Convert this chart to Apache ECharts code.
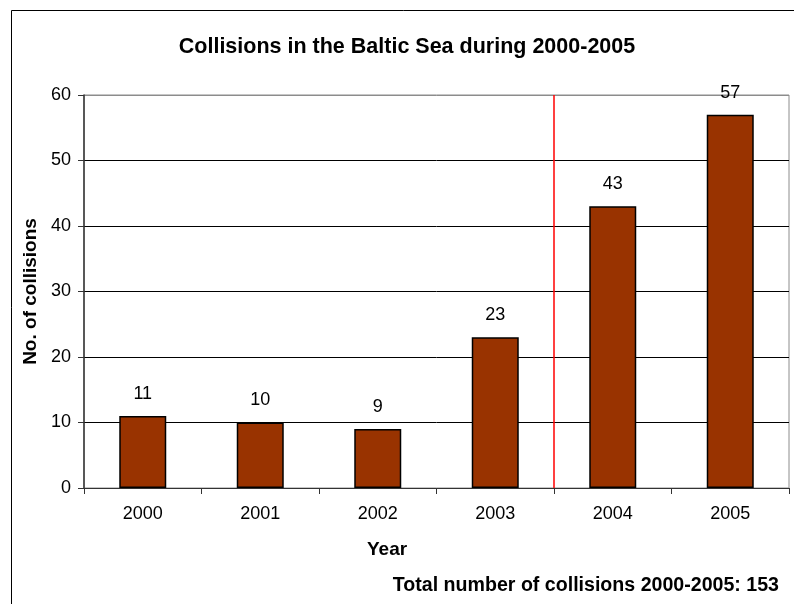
<!DOCTYPE html>
<html>
<head>
<meta charset="utf-8">
<script src="https://cdn.jsdelivr.net/npm/echarts@6/dist/echarts.min.js"></script>
<style>
  html, body { margin: 0; padding: 0; background: #fff; }
  #chart { width: 794px; height: 604px; }
</style>
</head>
<body>
<div id="chart"></div>
<script>
// Annual ship collisions in the Baltic Sea
const years = ['2000', '2001', '2002', '2003', '2004', '2005'];
const collisions = [11, 10, 9, 23, 43, 57];
const yTicks = [0, 10, 20, 30, 40, 50, 60];
// boundary between 2003 and 2004, in category units (0 = first category centre)
const dividerPosition = 3.5;
const totalCollisions = 153;

const FONT = '"Liberation Sans", Arial, sans-serif';

const chart = echarts.init(document.getElementById('chart'), null, { renderer: 'canvas' });

// gridlines are black, the top one coincides with the grey plot frame
const gridLineColors = yTicks.map((v, i) => (i === yTicks.length - 1 ? '#8c8c8c' : '#000000'));

chart.setOption({
  animation: false,
  backgroundColor: '#ffffff',
  title: {
    text: 'Collisions in the Baltic Sea during 2000-2005',
    left: 402,
    textAlign: 'center',
    top: 31,
    textStyle: { fontFamily: FONT, fontSize: 21.5, fontWeight: 'bold', color: '#000' }
  },
  graphic: [
    {
      type: 'rect',
      shape: { x: 11.5, y: 10.5, width: 800, height: 600 },
      style: { fill: 'none', stroke: '#000', lineWidth: 1 },
      silent: true,
      z: -1
    },
    {
      // x-axis title, set slightly left of the plot centre
      type: 'text',
      left: 367,
      top: 540,
      style: {
        text: 'Year',
        font: 'bold 19px ' + FONT,
        fill: '#000'
      }
    },
    {
      type: 'text',
      right: 15,
      top: 576,
      style: {
        text: 'Total number of collisions 2000-2005: ' + totalCollisions,
        font: 'bold 19.6px ' + FONT,
        fill: '#000'
      }
    }
  ],
  grid: {
    left: 84,
    top: 95,
    width: 705,
    height: 393,
    show: true,
    borderColor: '#8c8c8c',
    borderWidth: 1,
    containLabel: false
  },
  xAxis: [
    {
      type: 'category',
      data: years,
      axisLine: { lineStyle: { color: '#333', width: 1 } },
      axisTick: { show: true, length: 6, alignWithLabel: false, lineStyle: { color: '#333' } },
      axisLabel: { fontFamily: FONT, fontSize: 18, color: '#000', margin: 17 },
      splitLine: { show: false }
    },
    {
      // hidden numeric axis spanning the same width, used to place the divider line
      type: 'value',
      min: -0.5,
      max: 5.5,
      show: false,
      position: 'bottom',
      axisLine: { show: false },
      splitLine: { show: false }
    }
  ],
  yAxis: {
    type: 'value',
    min: yTicks[0],
    max: yTicks[yTicks.length - 1],
    interval: 10,
    name: 'No. of collisions',
    nameLocation: 'middle',
    nameGap: 44,
    nameTextStyle: { fontFamily: FONT, fontSize: 19, fontWeight: 'bold', color: '#000' },
    axisLine: { show: true, onZero: false, lineStyle: { color: '#333', width: 1.5 } },
    axisTick: { show: true, length: 6, lineStyle: { color: '#333' } },
    axisLabel: { fontFamily: FONT, fontSize: 18, color: '#000', margin: 13 },
    splitLine: { show: true, lineStyle: { color: gridLineColors, width: 1 } }
  },
  series: [
    {
      type: 'bar',
      xAxisIndex: 0,
      data: collisions,
      barWidth: '40%',
      itemStyle: { color: '#993300', borderColor: '#000', borderWidth: 1.5 },
      label: {
        show: true,
        position: 'top',
        distance: 13,
        fontFamily: FONT,
        fontSize: 18,
        color: '#000'
      }
    },
    {
      type: 'line',
      xAxisIndex: 1,
      data: [],
      silent: true,
      markLine: {
        symbol: ['none', 'none'],
        silent: true,
        label: { show: false },
        lineStyle: { color: '#ff0000', width: 1.5, type: 'solid' },
        data: [{ xAxis: dividerPosition }]
      }
    }
  ]
});
</script>
</body>
</html>
